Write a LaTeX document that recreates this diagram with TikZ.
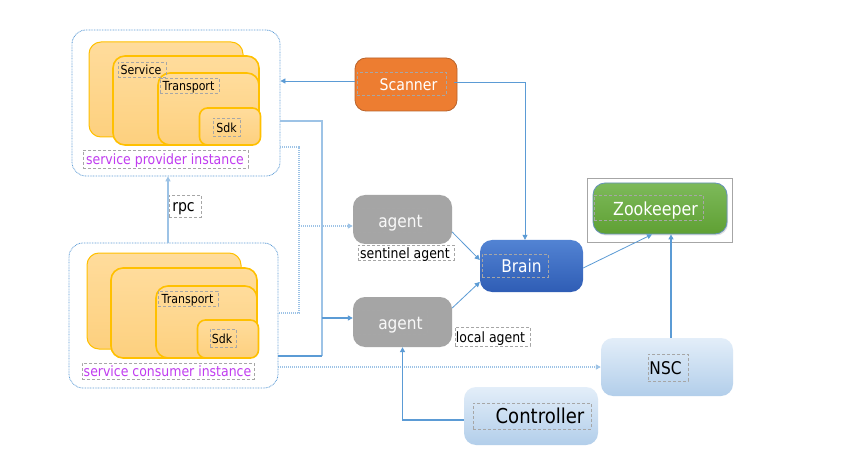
\documentclass[tikz,border=0pt]{standalone}
\usepackage{fontspec}
\setmainfont{DejaVu Sans}[FakeStretch=0.88]
\usetikzlibrary{arrows.meta,shadows}
\definecolor{cblue}{HTML}{5B9BD5}
\definecolor{lblue}{HTML}{9DC3E6}
\definecolor{lgray}{HTML}{A6A6A6}
\definecolor{gold}{HTML}{FFC000}
\definecolor{ytop}{HTML}{FFDC9C}
\definecolor{ybot}{HTML}{FDD07E}
\definecolor{mag}{HTML}{C03CF0}
\definecolor{scorange}{HTML}{ED7D31}
\definecolor{scborder}{HTML}{B8622A}
\definecolor{agray}{HTML}{A5A5A5}
\definecolor{btop}{HTML}{5283D3}
\definecolor{bbot}{HTML}{2F5DB5}
\definecolor{gtop}{HTML}{7DB95A}
\definecolor{gbot}{HTML}{5FA033}
\definecolor{ntop}{HTML}{E3EEF9}
\definecolor{nbot}{HTML}{B2CEEA}
\begin{document}
\begin{tikzpicture}[x=1pt,y=-1pt,
  container/.style={draw=cblue, line width=0.8pt, dash pattern=on 0.8pt off 0.8pt, rounded corners=14pt, inner sep=0pt},
  ybox/.style={draw=gold, line width=1.6pt, top color=ytop, bottom color=ybot, rounded corners=12pt, inner sep=0pt},
  ysmall/.style={ybox, rounded corners=8pt},
  lbl/.style={draw=lgray, dash pattern=on 3pt off 2pt, line width=0.8pt, inner sep=0pt},
  txt/.style={inner sep=0pt, text height=0.72em, text depth=0.2em},
  fs/.style={font=\fontsize{12.5}{14}\selectfont, yshift=-2.5pt},
  fm/.style={font=\fontsize{14.2}{16}\selectfont, yshift=-3pt},
  fl/.style={font=\fontsize{17.5}{20}\selectfont, yshift=-3.5pt},
  conn/.style={draw=cblue, line width=0.8pt},
  tip/.style={-{Triangle[length=5pt,width=5pt]}},
  fat/.style={draw=lblue, line width=1.6pt},
  dots/.style={draw=lblue, line width=1.6pt, dash pattern=on 1pt off 1pt},
  agentbox/.style={fill=agray, rounded corners=12pt, inner sep=0pt},
  lightbox/.style={top color=ntop, bottom color=nbot, rounded corners=12pt, inner sep=0pt}
]
\useasboundingbox[fill=white] (0,0) rectangle (846,457);

% ---------- provider ----------
\node[container, minimum width=208pt, minimum height=146pt] (prov) at (176,103) {};
\node[ybox, line width=1pt, minimum width=154pt, minimum height=95pt] (pb1) at (166,89.5) {};
\node[ybox, minimum width=146pt, minimum height=89pt] (pb2) at (186,100.5) {};
\node[ybox, minimum width=101pt, minimum height=72pt] (pb3) at (208.5,109) {};
\node[ysmall, minimum width=61pt, minimum height=37pt] (pb4) at (230,126.5) {};
\node[lbl, minimum width=48pt, minimum height=15pt] (lservice) at (142,69.5) {};
\node[txt, fs] (tservice) at (141,69.5) {Service};
\node[lbl, minimum width=59pt, minimum height=15pt] (ltransp) at (189.5,85.5) {};
\node[txt, fs] (ttransp) at (188.5,85.5) {Transport};
\node[lbl, minimum width=27pt, minimum height=18pt] (lsdk) at (226.5,127) {};
\node[txt, fs] (tsdk) at (226.5,127) {Sdk};
\node[lbl, minimum width=165pt, minimum height=18pt] (lspi) at (165.5,159) {};
\node[txt, fm, text=mag] (tspi) at (165,159) {service provider instance};

% ---------- consumer ----------
\node[container, minimum width=209pt, minimum height=145pt] (cons) at (173.5,315.5) {};
\node[ybox, line width=1pt, minimum width=154pt, minimum height=96pt] (cb1) at (164,301) {};
\node[ybox, minimum width=146pt, minimum height=90pt] (cb2) at (184,313) {};
\node[ybox, minimum width=101pt, minimum height=72pt] (cb3) at (206.5,322) {};
\node[ysmall, minimum width=61pt, minimum height=38pt] (cb4) at (228,339) {};
\node[lbl, minimum width=60pt, minimum height=15pt] (lctransp) at (188,298.5) {};
\node[txt, fs] (tctransp) at (187.5,298.5) {Transport};
\node[lbl, minimum width=26pt, minimum height=18pt] (lcsdk) at (223,338) {};
\node[txt, fs] (tcsdk) at (222,338) {Sdk};
\node[lbl, minimum width=172pt, minimum height=16pt] (lsci) at (168,371) {};
\node[txt, fm, text=mag] (tsci) at (167.5,371) {service consumer instance};

% ---------- rpc ----------
\coordinate (rpcx) at (168,0);
\draw[fat, tip] (cons.north -| rpcx) -- (prov.south -| rpcx);
\node[lbl, minimum width=32pt, minimum height=22pt] (lrpc) at (185,206) {};
\node[txt, font=\fontsize{16}{18}\selectfont, yshift=-3pt] (trpc) at (183.5,206) {rpc};

% ---------- scanner ----------
\node[fill=scorange, draw=scborder, line width=0.8pt, rounded corners=11pt, minimum width=102pt, minimum height=53pt, inner sep=0pt] (scanner) at (406,84.5) {};
\node[lbl, draw=gray!70!white, minimum width=89pt, minimum height=23pt] (lscanner) at (401.5,83.5) {};
\node[txt, font=\fontsize{16}{18}\selectfont, yshift=-3.5pt, text=white] (tscanner) at (408.5,84) {Scanner};

% ---------- agents ----------
\node[agentbox, minimum width=99pt, minimum height=49pt] (sentinel) at (402.5,219.5) {};
\node[lbl, minimum width=74pt, minimum height=24pt] (lsentinel) at (390,220) {};
\node[txt, fl, text=white!95!gray] (tsentinel) at (400.5,221) {agent};
\node[lbl, minimum width=96pt, minimum height=15pt] (lsentl) at (406,252.5) {};
\node[txt, fm] (tsentl) at (405,252.5) {sentinel agent};

\node[agentbox, minimum width=99pt, minimum height=50pt] (local) at (402.5,322) {};
\node[lbl, minimum width=74pt, minimum height=24pt] (llocal) at (390,322) {};
\node[txt, fl, text=white!95!gray] (tlocal) at (400.5,323) {agent};
\node[lbl, minimum width=75pt, minimum height=19pt] (llocall) at (492.5,336.5) {};
\node[txt, fm] (tlocall) at (490.5,337) {local agent};

% ---------- brain ----------
\node[top color=btop, bottom color=bbot, rounded corners=12pt, minimum width=103pt, minimum height=52pt, inner sep=0pt] (brain) at (531.5,266) {};
\node[lbl, minimum width=66pt, minimum height=23pt] (lbrain) at (515,265.5) {};
\node[txt, fl, text=white] (tbrain) at (521.5,266) {Brain};

% ---------- zookeeper ----------
\node[draw=lgray, line width=0.8pt, minimum width=145pt, minimum height=64pt, inner sep=0pt] (zooframe) at (659.5,210) {};
\node[top color=gtop, bottom color=gbot, draw=cblue!70!gray, line width=0.8pt, rounded corners=12pt, minimum width=134pt, minimum height=51pt, inner sep=0pt, drop shadow={opacity=0.25, shadow xshift=1pt, shadow yshift=-1.5pt}] (zoo) at (660,208.5) {};
\node[lbl, minimum width=109pt, minimum height=25pt] (lzoo) at (648.5,207.5) {};
\node[txt, font=\fontsize{18}{20}\selectfont, yshift=-3.5pt, text=white] (tzoo) at (655.5,209) {Zookeeper};

% ---------- NSC / controller ----------
\node[lightbox, minimum width=132pt, minimum height=58pt] (nsc) at (667,367) {};
\node[lbl, minimum width=40pt, minimum height=27pt] (lnsc) at (668,367.5) {};
\node[txt, fl] (tnsc) at (665.5,368) {NSC};
\node[lightbox, minimum width=134pt, minimum height=58pt] (ctrl) at (531,416) {};
\node[lbl, minimum width=118pt, minimum height=26pt] (lctrl) at (532,416) {};
\node[txt, font=\fontsize{20.5}{23}\selectfont, yshift=-4pt] (tctrl) at (540,417) {Controller};

% ---------- connectors ----------
% scanner -> provider
\draw[conn, tip] ([yshift=3.5pt]scanner.west) -- ([yshift=3.5pt]scanner.west -| prov.east);
% scanner -> brain
\draw[conn, tip] ([xshift=-3pt,yshift=2.5pt]scanner.east) -| ([xshift=-6.5pt]brain.north);
% provider/consumer bus -> local agent
\coordinate (b1t) at (322,121);
\coordinate (b1b) at (322,356);
\draw[fat] (prov.east |- b1t) -- (b1t) -- (b1b);
\draw[conn, line width=1.3pt] (b1b) -- (b1b -| cons.east);
\draw[conn, line width=1.2pt, tip] ([yshift=4pt]local.west -| b1t) -- ([yshift=4pt]local.west);
% dotted bus -> sentinel
\coordinate (b2t) at (299,147);
\coordinate (b2b) at (299,313);
\draw[dots] (prov.east |- b2t) -- (b2t) -- (b2b) -- (b2b -| cons.east);
\draw[dots, tip] ([yshift=-6.5pt]sentinel.west -| b2t) -- ([yshift=-6.5pt]sentinel.west);
% consumer -> NSC
\draw[dots, line width=1.3pt, tip] (nsc.west -| cons.east) -- (nsc.west);
% controller -> local agent
\draw[conn, line width=1.1pt, tip] ([yshift=-4pt]ctrl.west) -| (local.south);
% agents -> brain
\draw[conn, tip] ([yshift=-12.5pt]sentinel.east) -- ([yshift=6pt]brain.west);
\draw[conn, tip] ([yshift=14pt]local.east) -- ([yshift=-16pt]brain.west);
% brain -> zookeeper
\draw[conn, tip] ([yshift=-2pt]brain.east) -- ([xshift=-8pt]zoo.south);
% NSC -> zookeeper
\draw[conn, line width=1.1pt, tip] ([xshift=4pt]nsc.north) -- ([xshift=4pt]nsc.north |- zoo.south);
\end{tikzpicture}
\end{document}
